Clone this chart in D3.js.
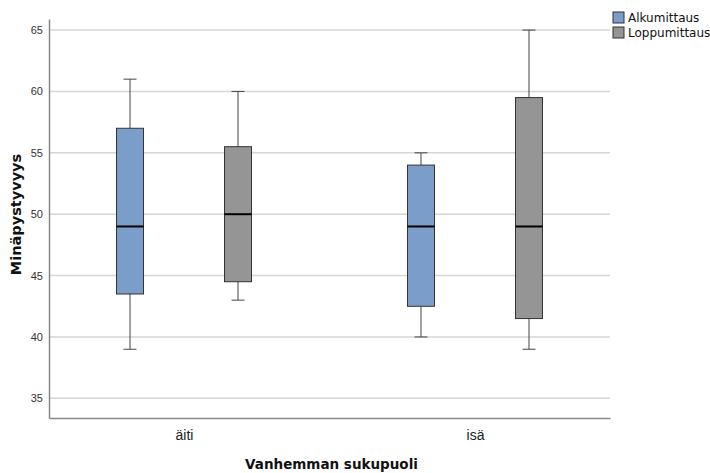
<!DOCTYPE html>
<html>
<head>
<meta charset="utf-8">
<script src="https://cdn.jsdelivr.net/npm/d3@7"></script>
<style>
  body { margin: 0; background: #fff; }
  svg { font-family: "DejaVu Sans", sans-serif; }
</style>
</head>
<body>
<div id="chart"></div>
<script>
// Categories and series
const groups = ["äiti", "isä"];
const series = ["Alkumittaus", "Loppumittaus"];
const colors = ["#7b9dc9", "#959595"];

// Box stats per series, one entry per group: [min, q1, median, q3, max]
const alkuStats = [[39, 43.5, 49, 57, 61], [40, 42.5, 49, 54, 55]];
const loppuStats = [[43, 44.5, 50, 55.5, 60], [39, 41.5, 49, 59.5, 65]];
const yTicks = [35, 40, 45, 50, 55, 60, 65];

const statsBySeries = [alkuStats, loppuStats];

const width = 710, height = 473;
const margin = { top: 19, right: 100, bottom: 55, left: 49 };
const innerW = width - margin.left - margin.right;
const innerH = height - margin.top - margin.bottom;

const svg = d3.select("#chart").append("svg")
    .attr("width", width)
    .attr("height", height);

const g = svg.append("g")
    .attr("transform", `translate(${margin.left},${margin.top})`);

// Scales
const x = d3.scalePoint()
    .domain(groups)
    .range([0, innerW])
    .padding(0.464);

const xInner = d3.scalePoint()
    .domain(series)
    .range([-54, 54]);

const y = d3.scaleLinear()
    .domain([33.4, 65.9])
    .range([innerH, 0]);

// Gridlines
g.selectAll(".grid")
    .data(yTicks)
    .enter()
    .append("line")
    .attr("x1", 0)
    .attr("x2", innerW)
    .attr("y1", d => y(d))
    .attr("y2", d => y(d))
    .attr("stroke", "#d6d6d6")
    .attr("stroke-width", 1.5);

// Y axis
const yAxis = g.append("g")
    .call(d3.axisLeft(y).tickValues(yTicks).tickSize(0).tickPadding(6));
yAxis.select(".domain").attr("stroke", "#888").attr("stroke-width", 1.5);
yAxis.selectAll("text").attr("font-size", "11px").attr("fill", "#333");

// X axis
const xAxis = g.append("g")
    .attr("transform", `translate(0,${innerH})`)
    .call(d3.axisBottom(x).tickSize(0).tickPadding(12));
xAxis.select(".domain").attr("stroke", "#888").attr("stroke-width", 1.5);
xAxis.selectAll("text").attr("font-size", "14px").attr("fill", "#222");

// Axis titles
g.append("text")
    .attr("x", innerW / 2 + 2)
    .attr("y", innerH + 51)
    .attr("text-anchor", "middle")
    .attr("font-size", "13.5px")
    .attr("font-weight", "bold")
    .attr("fill", "#111")
    .text("Vanhemman sukupuoli");

g.append("text")
    .attr("transform", `translate(${-28},${innerH / 2 - 4}) rotate(-90)`)
    .attr("text-anchor", "middle")
    .attr("font-size", "14.5px")
    .attr("font-weight", "bold")
    .attr("fill", "#111")
    .text("Minäpystyvyys");

// Boxes
const boxW = 27, capW = 13;
const boxData = [];
series.forEach((s, si) => {
    groups.forEach((grp, gi) => {
        const st = statsBySeries[si][gi];
        boxData.push({ group: grp, series: s, color: colors[si],
            min: st[0], q1: st[1], med: st[2], q3: st[3], max: st[4] });
    });
});

const boxes = g.selectAll(".box")
    .data(boxData)
    .enter()
    .append("g")
    .attr("class", "box")
    .attr("transform", d => `translate(${x(d.group) + xInner(d.series)},0)`);

// whiskers
boxes.append("line")
    .attr("y1", d => y(d.max)).attr("y2", d => y(d.q3))
    .attr("stroke", "#444").attr("stroke-width", 1);
boxes.append("line")
    .attr("y1", d => y(d.q1)).attr("y2", d => y(d.min))
    .attr("stroke", "#444").attr("stroke-width", 1);
boxes.append("line")
    .attr("x1", -capW / 2).attr("x2", capW / 2)
    .attr("y1", d => y(d.max)).attr("y2", d => y(d.max))
    .attr("stroke", "#444").attr("stroke-width", 1);
boxes.append("line")
    .attr("x1", -capW / 2).attr("x2", capW / 2)
    .attr("y1", d => y(d.min)).attr("y2", d => y(d.min))
    .attr("stroke", "#444").attr("stroke-width", 1);

// box
boxes.append("rect")
    .attr("x", -boxW / 2)
    .attr("width", boxW)
    .attr("y", d => y(d.q3))
    .attr("height", d => y(d.q1) - y(d.q3))
    .attr("fill", d => d.color)
    .attr("stroke", "#333")
    .attr("stroke-width", 1);

// median
boxes.append("line")
    .attr("x1", -boxW / 2).attr("x2", boxW / 2)
    .attr("y1", d => y(d.med)).attr("y2", d => y(d.med))
    .attr("stroke", "#000").attr("stroke-width", 2);

// Legend
const legend = svg.append("g")
    .attr("transform", "translate(613,12)");
const items = legend.selectAll(".item")
    .data(series)
    .enter()
    .append("g")
    .attr("transform", (d, i) => `translate(0,${i * 15})`);
items.append("rect")
    .attr("width", 11).attr("height", 11)
    .attr("fill", (d, i) => colors[i])
    .attr("stroke", "#333").attr("stroke-width", 1);
items.append("text")
    .attr("x", 15).attr("y", 10)
    .attr("font-size", "12px")
    .attr("fill", "#111")
    .text(d => d);
</script>
</body>
</html>
